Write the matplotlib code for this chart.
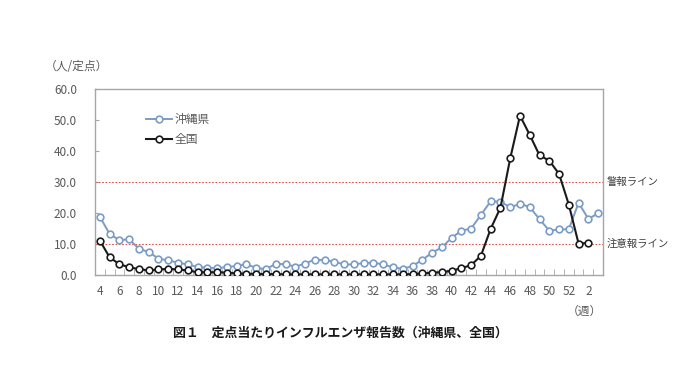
import matplotlib
matplotlib.use("Agg")
import matplotlib.pyplot as plt

plt.rcParams['font.family'] = ['Noto Sans CJK JP', 'DejaVu Sans']

# 週番号 (4週 ~ 翌年3週)
weeks = list(range(4, 53)) + [1, 2, 3]

okinawa = [18.8, 13.2, 11.3, 11.5, 8.5, 7.4, 5.3, 4.7, 4.0, 3.4,
           2.6, 2.4, 2.2, 2.6, 2.9, 3.5, 2.3, 1.9, 3.6, 3.5,
           2.7, 3.7, 5.0, 4.8, 4.3, 3.4, 3.4, 3.9, 4.0, 3.4,
           2.5, 2.0, 2.9, 4.9, 7.2, 8.9, 12.0, 14.3, 15.0, 19.4,
           23.8, 23.7, 21.8, 23.0, 21.9, 18.0, 14.3, 14.7, 14.8, 23.3,
           18.1, 19.9]

zenkoku = [11.1, 5.7, 3.5, 2.5, 1.9, 1.5, 1.8, 2.0, 1.8, 1.5,
           0.9, 0.9, 0.9, 0.8, 0.5, 0.4, 0.4, 0.3, 0.3, 0.2,
           0.2, 0.2, 0.2, 0.2, 0.2, 0.2, 0.2, 0.2, 0.2, 0.2,
           0.2, 0.2, 0.3, 0.5, 0.8, 0.9, 1.4, 2.2, 3.2, 6.2,
           14.9, 21.7, 37.6, 51.4, 45.2, 38.6, 36.9, 32.6, 22.7, 10.1,
           10.4]

keiho = 30.0
chuiho = 10.0

x = list(range(len(weeks)))
tick_pos = x[::2]
tick_labels = [str(w) for w in weeks[::2]]

fig = plt.figure(figsize=(6.8, 3.82), dpi=100)
ax = fig.add_axes([0.1397, 0.280, 0.7471, 0.487])

ax.axhline(keiho, color="#D9534F", linestyle=(0, (1.5, 1.5)), linewidth=0.8)
ax.axhline(chuiho, color="#D9534F", linestyle=(0, (1.5, 1.5)), linewidth=0.8)

ax.plot(x, okinawa, color="#7A9CC6", linewidth=1.4, marker="o", markersize=4.8,
        markerfacecolor="white", markeredgecolor="#7A9CC6", markeredgewidth=1.2,
        label="沖縄県", zorder=3)
ax.plot(x[:len(zenkoku)], zenkoku, color="#1A1A1A", linewidth=1.5, marker="o",
        markersize=4.8, markerfacecolor="white", markeredgecolor="#1A1A1A",
        markeredgewidth=1.2, label="全国", zorder=4)

ax.set_xlim(-0.5, len(weeks) - 0.5)
ax.set_ylim(0, 60)
ax.set_yticks(range(0, 61, 10))
ax.set_yticklabels([f"{v:.1f}" for v in range(0, 61, 10)])
ax.set_xticks(tick_pos)
ax.set_xticklabels(tick_labels)
ax.set_xticks([i + 0.5 for i in range(-1, len(weeks))], minor=True)
ax.tick_params(axis="x", which="major", length=0, pad=7, labelsize=8.5, labelcolor="#595959")
ax.tick_params(axis="x", which="minor", direction="in", length=4, color="#A6A6A6")
ax.tick_params(axis="y", direction="in", length=3, color="#A6A6A6", pad=13,
               labelsize=8.5, labelcolor="#595959")
for s in ax.spines.values():
    s.set_color("#A6A6A6")
    s.set_linewidth(1.0)

leg = ax.legend(loc="upper left", bbox_to_anchor=(0.08, 0.93), frameon=False,
                fontsize=8.5, handlelength=2.2, handletextpad=0.2, labelspacing=0.6)
for t in leg.get_texts():
    t.set_color("#595959")

fig.text(0.066, 0.825, "（人/定点）", fontsize=8.5, color="#595959", va="center")
fig.text(0.892, ax.transData.transform((0, keiho))[1] / fig.bbox.height, "警報ライン",
         fontsize=7.5, color="#404040", va="center")
fig.text(0.892, ax.transData.transform((0, chuiho))[1] / fig.bbox.height, "注意報ライン",
         fontsize=7.5, color="#404040", va="center")
fig.text(0.860, 0.185, "（週）", fontsize=8.5, color="#595959", ha="center", va="center")
fig.text(0.5, 0.128, "図１　定点当たりインフルエンザ報告数（沖縄県、全国）",
         fontsize=9.3, fontweight="bold", ha="center", va="center", color="#1A1A1A")

fig.savefig("out.png", dpi=100)
